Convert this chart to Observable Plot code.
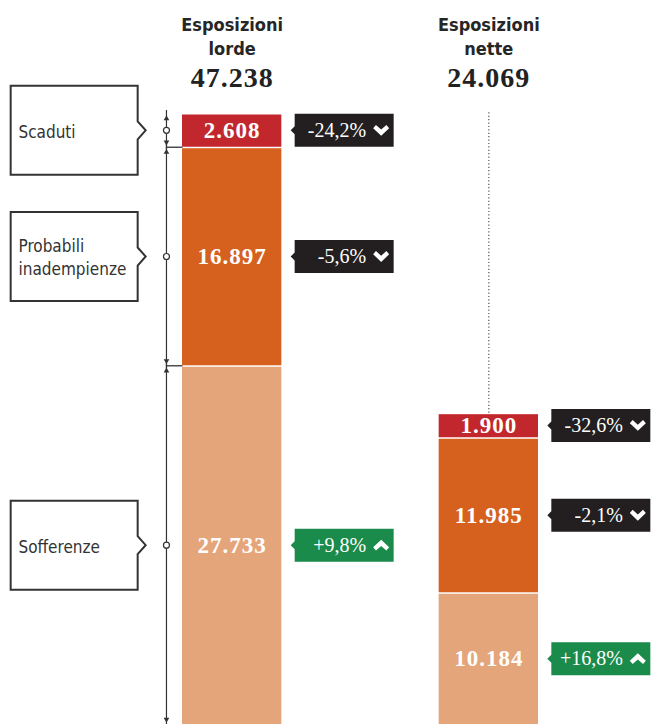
<!DOCTYPE html>
<html>
<head>
<meta charset="utf-8">
<script src="https://cdn.jsdelivr.net/npm/d3@7"></script>
<script src="https://cdn.jsdelivr.net/npm/@observablehq/plot@0.6"></script>
<style>
  html, body { margin: 0; padding: 0; background: #fff; }
  #chart { width: 652px; height: 724px; }
  g[aria-description="valori"] text { letter-spacing: 1px; }
  g[aria-description="totali"] text { letter-spacing: 1px; }
</style>
</head>
<body>
<div id="chart"></div>
<script>
// ---- Data ----
const columns = ["lorde", "nette"];
const columnTitles = ["Esposizioni\nlorde", "Esposizioni\nnette"];
const categories = ["Sofferenze", "Probabili inadempienze", "Scaduti"]; // bottom → top
const categoryLabels = ["Sofferenze", "Probabili\ninadempienze", "Scaduti"];
const categoryColors = ["#e5a57b", "#d6611f", "#c1272d"];
const lordeValues = [27733, 16897, 2608];
const netteValues = [10184, 11985, 1900];
const lordeChanges = ["+9,8%", "-5,6%", "-24,2%"];
const netteChanges = ["+16,8%", "-2,1%", "-32,6%"];

// ---- Build table ----
const fmt = v => d3.format(",")(v).replace(/,/g, ".");
const valuesByColumn = [lordeValues, netteValues];
const changesByColumn = [lordeChanges, netteChanges];
const rows = [];
const headers = [];
columns.forEach((col, ci) => {
  let acc = 0;
  categories.forEach((cat, k) => {
    const v = valuesByColumn[ci][k];
    const change = changesByColumn[ci][k];
    rows.push({col, cat, label: categoryLabels[k], value: v, y1: acc, y2: acc + v, mid: acc + v / 2,
               change, up: change.startsWith("+")});
    acc += v;
  });
  headers.push({col, title: columnTitles[ci], total: acc});
});
const maxTotal = d3.max(headers, d => d.total);
const lordeRows = rows.filter(d => d.col === columns[0]);

// ---- Custom symbols ----
const badgeShape = {draw(ctx) {
  const w = 99, h = 33;
  ctx.moveTo(-w / 2, -h / 2); ctx.lineTo(w / 2, -h / 2); ctx.lineTo(w / 2, h / 2);
  ctx.lineTo(-w / 2, h / 2); ctx.lineTo(-w / 2, 4); ctx.lineTo(-w / 2 - 4, 0); ctx.lineTo(-w / 2, -4);
  ctx.closePath();
}};
const boxShape = {draw(ctx) {
  const w = 127, h = 89;
  ctx.moveTo(-w / 2, -h / 2); ctx.lineTo(w / 2, -h / 2); ctx.lineTo(w / 2, -9);
  ctx.lineTo(w / 2 + 8, 0); ctx.lineTo(w / 2, 9); ctx.lineTo(w / 2, h / 2);
  ctx.lineTo(-w / 2, h / 2); ctx.closePath();
}};
const chevron = s => ({draw(ctx) {
  const p = [[-8, -2.2], [-5.2, -5.4], [0, -0.8], [5.2, -5.4], [8, -2.2], [0, 5.4]];
  p.forEach(([x, y], i) => i ? ctx.lineTo(x, s * y) : ctx.moveTo(x, s * y));
  ctx.closePath();
}});
const hline = {draw(ctx) { ctx.moveTo(-8, 0); ctx.lineTo(8, 0); }};

const serif = "'Liberation Serif', 'DejaVu Serif', serif";
const sans = "'DejaVu Sans Condensed', 'Liberation Sans Narrow', 'Roboto', sans-serif";

// layout offsets (pixels from band centre)
const BADGE_DX = 112, BRACKET_DX = -65.7, BOX_DX = -158, BOXTEXT_DX = -213.7;

const chart = Plot.plot({
  width: 652,
  height: 724,
  marginTop: 113,
  marginBottom: 0,
  marginLeft: 182,
  marginRight: 114,
  style: {background: "white"},
  x: {type: "band", domain: columns, paddingInner: 0.613, paddingOuter: 0, round: false, axis: null},
  y: {domain: [0, maxTotal], axis: null},
  color: {domain: categories, range: categoryColors},
  marks: [
    // dotted guide above the net bar
    Plot.ruleX(headers.filter(d => d.total < maxTotal), {x: "col", y1: "total", y2: maxTotal,
      stroke: "#555", strokeWidth: 1.2, strokeDasharray: "1.2,2.2", insetBottom: 3}),
    // stacked bars
    Plot.barY(rows, {x: "col", y1: "y1", y2: "y2", fill: "cat", insetTop: 1.5}),
    Plot.text(rows, {x: "col", y: "mid", text: d => fmt(d.value), fill: "white",
      fontFamily: serif, fontSize: 23, fontWeight: "bold", ariaDescription: "valori"}),
    // column headers
    Plot.text(headers, {x: "col", text: "title", frameAnchor: "top", lineAnchor: "bottom", dy: -59,
      fontFamily: sans, fontSize: 18, fontWeight: "bold", lineHeight: 1.33, fill: "#262626"}),
    Plot.text(headers, {x: "col", text: d => fmt(d.total), frameAnchor: "top", lineAnchor: "bottom", dy: -27,
      fontFamily: serif, fontSize: 28, fontWeight: "bold", fill: "#222", ariaDescription: "totali"}),
    // change badges
    Plot.dot(rows.filter(d => !d.up), {x: "col", y: "mid", symbol: badgeShape, fill: "#231f20", dx: BADGE_DX}),
    Plot.dot(rows.filter(d => d.up), {x: "col", y: "mid", symbol: badgeShape, fill: "#1b8b4b", dx: BADGE_DX}),
    Plot.text(rows, {x: "col", y: "mid", text: "change", textAnchor: "end", dx: BADGE_DX + 22,
      fill: "white", fontFamily: serif, fontSize: 20}),
    Plot.dot(rows.filter(d => !d.up), {x: "col", y: "mid", symbol: chevron(1), fill: "white", dx: BADGE_DX + 37}),
    Plot.dot(rows.filter(d => d.up), {x: "col", y: "mid", symbol: chevron(-1), fill: "white", dx: BADGE_DX + 37}),
    // category boxes on the left
    Plot.dot(lordeRows, {x: "col", y: "mid", symbol: boxShape, fill: "white", stroke: "#333", strokeWidth: 2, dx: BOX_DX}),
    Plot.text(lordeRows, {x: "col", y: "mid", text: "label", textAnchor: "start", dx: BOXTEXT_DX,
      fontFamily: sans, fontSize: 17, lineHeight: 1.35, fill: "#333"}),
    // brackets
    Plot.ruleX(lordeRows, {x: "col", y1: "y1", y2: "y2", dx: BRACKET_DX, stroke: "#333", strokeWidth: 1.2,
      insetTop: 3, insetBottom: 3}),
    Plot.dot(lordeRows, {x: "col", y: "y2", symbol: "triangle", r: 2.1, fill: "#333", dx: BRACKET_DX, dy: 5}),
    Plot.dot(lordeRows, {x: "col", y: "y1", symbol: "triangle", r: 2.1, fill: "#333", rotate: 180, dx: BRACKET_DX, dy: -5}),
    Plot.dot(lordeRows, {x: "col", y: "mid", r: 3, fill: "white", stroke: "#333", strokeWidth: 1.2, dx: BRACKET_DX}),
    Plot.dot(lordeRows.filter(d => d.y2 < maxTotal), {x: "col", y: "y2", symbol: hline, fill: "none",
      stroke: "#333", strokeWidth: 1.3, dx: BRACKET_DX + 8})
  ]
});
document.getElementById("chart").appendChild(chart);
</script>
</body>
</html>
